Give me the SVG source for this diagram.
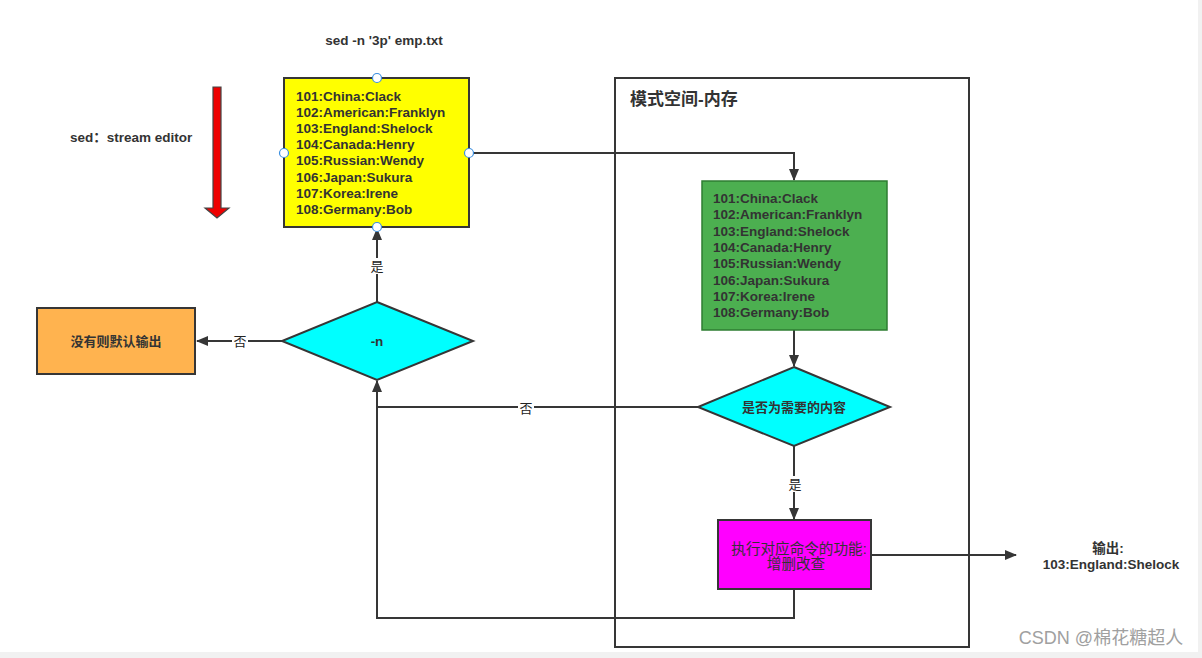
<svg xmlns="http://www.w3.org/2000/svg" width="1202" height="658" viewBox="0 0 1202 658">
<defs>
<style>
text{font-family:"Liberation Sans","Noto Sans CJK SC",sans-serif;fill:#333;}
.b{font-weight:bold;font-size:13.5px;}
.lst{font-weight:bold;font-size:13.5px;}
.ln{fill:none;stroke:#363636;stroke-width:2;}
.box{stroke:#363636;stroke-width:2;}
.lbl{font-size:13px;text-anchor:middle;fill:#222;}
.h{fill:#fff;stroke:#3b8fe0;stroke-width:1.2;}
</style>
<marker id="ar" markerWidth="12" markerHeight="12" viewBox="0 0 12 12" refX="11" refY="6" orient="auto" markerUnits="userSpaceOnUse">
<path d="M0,1 L12,6 L0,11 Z" fill="#363636"/>
</marker>
</defs>
<rect x="0" y="0" width="1202" height="658" fill="#fff"/>
<rect x="0" y="652" width="1202" height="6" fill="#f1f1f1"/>
<rect x="1198" y="0" width="4" height="658" fill="#f1f1f1"/>

<g id="connectors">
<polyline class="ln" points="377,302 377,229" marker-end="url(#ar)"/>
<polyline class="ln" points="282,341 197,341" marker-end="url(#ar)"/>
<polyline class="ln" points="469,153 794,153 794,180" marker-end="url(#ar)"/>
<polyline class="ln" points="794,330 794,366" marker-end="url(#ar)"/>
<polyline class="ln" points="698,407 377,407 377,381" marker-end="url(#ar)"/>
<polyline class="ln" points="794,446 794,519" marker-end="url(#ar)"/>
<polyline class="ln" points="871,555 1016,555" marker-end="url(#ar)"/>
<polyline class="ln" points="794,589 794,618 377,618 377,407"/>
<rect x="370" y="258" width="14" height="16" fill="#fff"/>
<text class="lbl" x="377" y="271">是</text>
<rect x="232" y="333" width="16" height="16" fill="#fff"/>
<text class="lbl" x="240" y="346">否</text>
<rect x="518" y="400" width="16" height="16" fill="#fff"/>
<text class="lbl" x="526" y="413">否</text>
<rect x="787" y="476" width="14" height="16" fill="#fff"/>
<text class="lbl" x="795" y="489">是</text>
</g>

<g id="title">
<text class="b" x="384" y="45" text-anchor="middle">sed -n '3p' emp.txt</text>
</g>

<g id="sed-label">
<text class="b" x="70" y="142">sed：stream editor</text>
</g>

<g id="red-arrow">
<path d="M213,87 L221,87 L221,208 L229,208 L217,218 L205,208 L213,208 Z" fill="#ee0000" stroke="#444" stroke-width="1.2"/>
</g>

<g id="file-box">
<rect class="box" x="284" y="78" width="185" height="149" fill="#ffff00"/>
<text class="lst" x="296" y="101">101:China:Clack</text>
<text class="lst" x="296" y="117">102:American:Franklyn</text>
<text class="lst" x="296" y="133">103:England:Shelock</text>
<text class="lst" x="296" y="149">104:Canada:Henry</text>
<text class="lst" x="296" y="165">105:Russian:Wendy</text>
<text class="lst" x="296" y="182">106:Japan:Sukura</text>
<text class="lst" x="296" y="198">107:Korea:Irene</text>
<text class="lst" x="296" y="214">108:Germany:Bob</text>
<circle class="h" cx="377" cy="78" r="4.5"/>
<circle class="h" cx="284" cy="153" r="4.5"/>
<circle class="h" cx="469" cy="153" r="4.5"/>
<circle class="h" cx="377" cy="227" r="4.5"/>
</g>

<g id="default-output">
<rect class="box" x="37" y="308" width="158" height="66" fill="#ffb34f"/>
<text class="b" x="116" y="346" text-anchor="middle" style="font-size:13px">没有则默认输出</text>
</g>

<g id="n-decision">
<polygon class="box" points="377,302 473,341 377,380 282,341" fill="#00ffff"/>
<text class="b" x="377" y="346" text-anchor="middle">-n</text>
</g>

<g id="pattern-space">
<rect x="615" y="78" width="354" height="569" fill="none" stroke="#363636" stroke-width="2"/>
<text x="630" y="105" style="font-weight:bold;font-size:17px;">模式空间-内存</text>
</g>

<g id="memory-box">
<rect x="702" y="181" width="185" height="149" fill="#4caf50" stroke="#2e7d32" stroke-width="1.5"/>
<text class="lst" x="713" y="203">101:China:Clack</text>
<text class="lst" x="713" y="219">102:American:Franklyn</text>
<text class="lst" x="713" y="236">103:England:Shelock</text>
<text class="lst" x="713" y="252">104:Canada:Henry</text>
<text class="lst" x="713" y="268">105:Russian:Wendy</text>
<text class="lst" x="713" y="285">106:Japan:Sukura</text>
<text class="lst" x="713" y="301">107:Korea:Irene</text>
<text class="lst" x="713" y="317">108:Germany:Bob</text>
</g>

<g id="match-decision">
<polygon class="box" points="794,367 890,407 794,446 698,407" fill="#00ffff"/>
<text class="b" x="794" y="412" text-anchor="middle" style="font-size:13px">是否为需要的内容</text>
</g>

<g id="exec-box">
<rect class="box" x="718" y="520" width="153" height="69" fill="#ff00ff"/>
<text x="799" y="554" text-anchor="middle" style="font-size:14.6px">执行对应命令的功能:</text>
<text x="796" y="569" text-anchor="middle" style="font-size:14.6px">增删改查</text>
</g>

<g id="output">
<text class="b" x="1108" y="553" text-anchor="middle">输出:</text>
<text class="b" x="1111" y="569" text-anchor="middle">103:England:Shelock</text>
</g>

<g id="watermark">
<text x="1101" y="644" text-anchor="middle" style="font-size:18px;fill:#a0a0a0;">CSDN @棉花糖超人</text>
</g>
</svg>
